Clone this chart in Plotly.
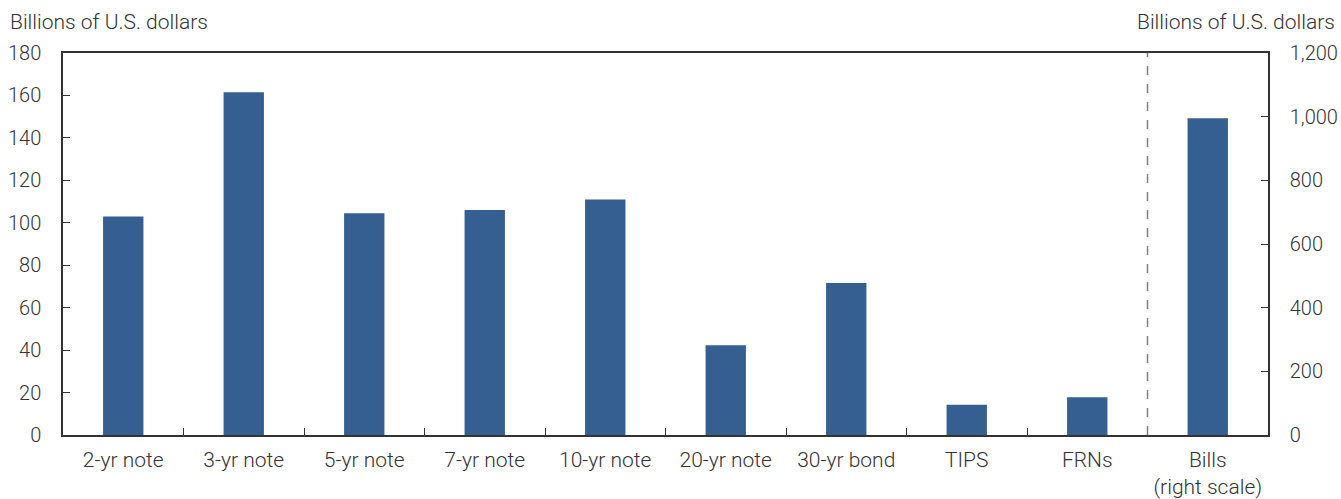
import plotly.graph_objects as go

categories = ["2-yr note", "3-yr note", "5-yr note", "7-yr note", "10-yr note",
              "20-yr note", "30-yr bond", "TIPS", "FRNs", "Bills<br>(right scale)"]
left_values = [103, 161.5, 104.5, 106, 111, 42.3, 71.6, 14.2, 17.8]
bills_value = [995]
left_ticks = [0, 20, 40, 60, 80, 100, 120, 140, 160, 180]
right_ticks = [0, 200, 400, 600, 800, 1000, 1200]
right_ticktext = ["0", "200", "400", "600", "800", "1,000", "1,200"]

BAR = "#355F91"
INK = "#333333"
TICKFONT = dict(family="Roboto", size=20, color=INK, weight=300)
XFONT = dict(family="Roboto", size=21, color=INK, weight=300)
LABELFONT = dict(family="Roboto", size=21, color=INK, weight=300)

fig = go.Figure()
fig.add_trace(go.Bar(x=categories[:9], y=left_values, marker=dict(color=BAR, line=dict(width=0)),
                     yaxis="y", showlegend=False))
fig.add_trace(go.Bar(x=categories[9:], y=bills_value, marker=dict(color=BAR, line=dict(width=0)),
                     yaxis="y2", showlegend=False))

fig.update_layout(
    width=1341, height=499,
    margin=dict(l=63, r=73, t=53, b=64, autoexpand=False),
    paper_bgcolor="white", plot_bgcolor="white",
    barmode="overlay", bargap=0.665,
    font=TICKFONT,
    xaxis=dict(type="category", categoryorder="array", categoryarray=categories,
               showline=True, linecolor=INK, linewidth=1.5, mirror=True,
               ticks="inside", ticklen=7, tickcolor=INK, tickson="boundaries",
               showgrid=False, tickfont=XFONT, ticklabelstandoff=5, automargin=False),
    yaxis=dict(range=[0, 180], tickvals=left_ticks, showgrid=False, zeroline=False,
               showline=True, linecolor=INK, linewidth=1.5,
               ticks="inside", ticklen=7, tickcolor=INK, tickfont=TICKFONT,
               ticklabelstandoff=16, automargin=False),
    yaxis2=dict(range=[0, 1200], tickvals=right_ticks, ticktext=right_ticktext,
                overlaying="y", side="right", showgrid=False, zeroline=False,
                showline=True, linecolor=INK, linewidth=1.5,
                ticks="inside", ticklen=7, tickcolor=INK, tickfont=TICKFONT,
                ticklabelstandoff=16, automargin=False),
    shapes=[dict(type="line", xref="x", yref="paper", x0=8.5, x1=8.5, y0=0, y1=1,
                 line=dict(color="#7f7f7f", width=1.5, dash="dash"))],
    annotations=[
        dict(text="Billions of U.S. dollars", xref="paper", yref="paper",
             x=-63/1205, y=1, yshift=31, xanchor="left", yanchor="middle", xshift=8,
             showarrow=False, font=LABELFONT),
        dict(text="Billions of U.S. dollars", xref="paper", yref="paper",
             x=1 + 73/1205, y=1, yshift=31, xanchor="right", yanchor="middle", xshift=-4,
             showarrow=False, font=LABELFONT),
    ],
)

fig.write_html("out.html", config={"displayModeBar": False},
               post_script="document.body.style.margin='0';document.body.style.overflow='hidden';")
